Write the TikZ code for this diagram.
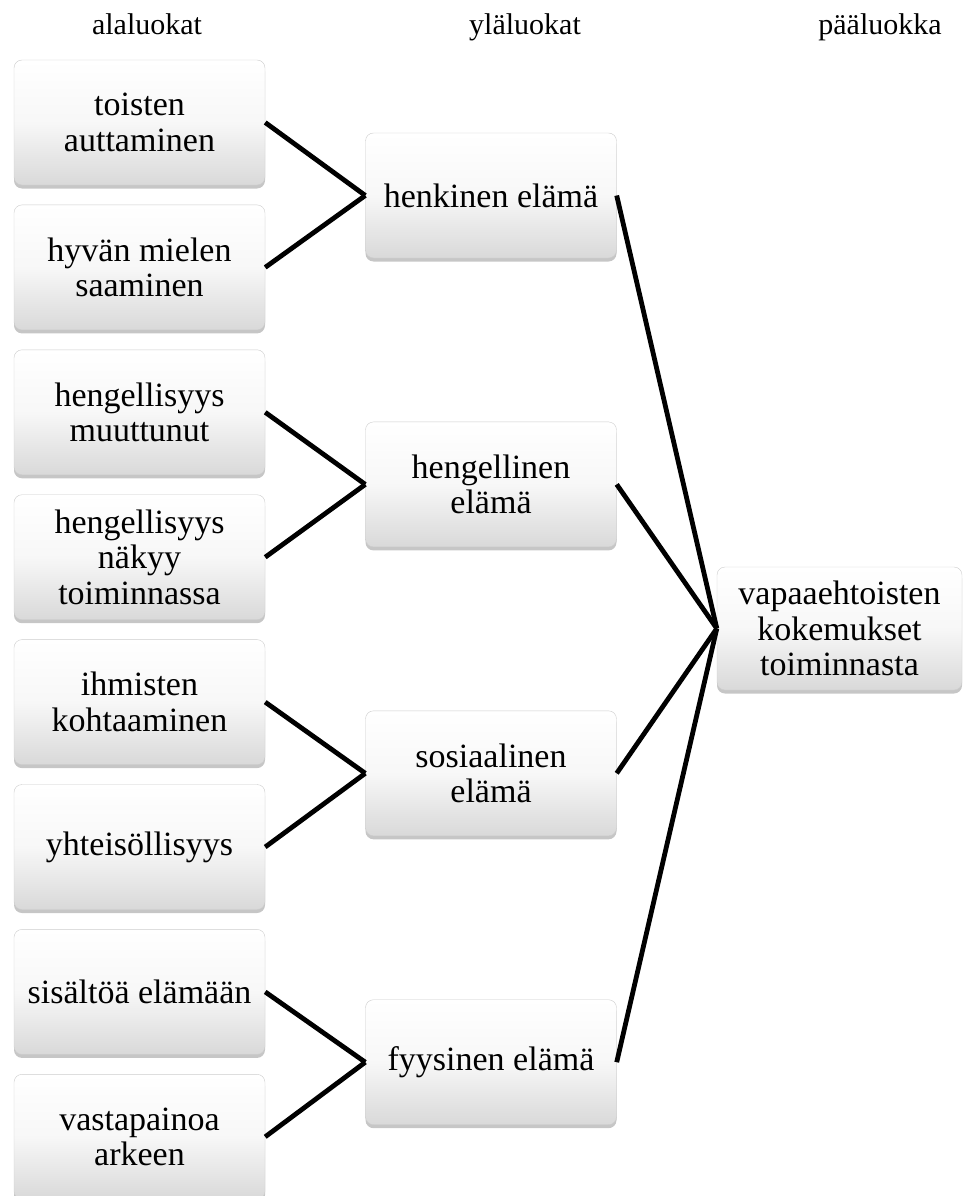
\documentclass[tikz,border=0pt]{standalone}
\usepackage{fontspec}
\setmainfont{Liberation Serif}
\usetikzlibrary{positioning,shadows}
\begin{document}
\begin{tikzpicture}[x=1pt,y=1pt]
\tikzstyle{box} = [draw=gray!40, thin, rounded corners=8pt, top color=white, bottom color=gray!30, middle color=gray!6, minimum width=251pt, minimum height=125pt, align=center, font=\fontsize{34}{35.5}\selectfont, drop shadow={shadow xshift=0pt, shadow yshift=-3.5pt, opacity=0.45}] % shaded category box
\tikzstyle{link} = [line width=4.8pt, color=black] % connecting line
\tikzstyle{head} = [anchor=base, font=\fontsize{30}{32}\selectfont] % column header
\useasboundingbox (0,0) rectangle (963,-1196); % page size of the reference
% column headers
\node(hsub)[head] at (147,-35){alaluokat};
\node(hupper)[head] at (525,-35){yläluokat};
\node(hmain)[head] at (880,-35){pääluokka};
% left column: subcategories, first one placed at coordinates -> the rest below it
\node(toisten)[box] at (139.5,-122.5){toisten\\auttaminen};
\node(mieli)[box, below = 19.5pt of toisten]{hyvän mielen\\saaminen};
\node(muuttunut)[box, below = 19.5pt of mieli]{hengellisyys\\muuttunut};
\node(nakyy)[box, below = 19.5pt of muuttunut]{hengellisyys\\näkyy\\toiminnassa};
\node(kohtaaminen)[box, below = 19.5pt of nakyy]{ihmisten\\kohtaaminen};
\node(yhteis)[box, below = 19.5pt of kohtaaminen]{yhteisöllisyys};
\node(sisalto)[box, below = 19.5pt of yhteis]{sisältöä elämään};
\node(vasta)[box, below = 19.5pt of sisalto]{vastapainoa\\arkeen};
% middle column: upper categories
\node(henkinen)[box] at (491,-195.5){henkinen elämä};
\node(hengellinen)[box, below = 163.5pt of henkinen]{hengellinen\\elämä};
\node(sosiaalinen)[box, below = 163.5pt of hengellinen]{sosiaalinen\\elämä};
\node(fyysinen)[box, below = 163.5pt of sosiaalinen]{fyysinen elämä};
% right column: main category
\node(paa)[box, minimum width=245pt, minimum height=123pt] at (839.5,-628.5){vapaaehtoisten\\kokemukset\\toiminnasta};
% lines from subcategories to upper categories
\draw[link](toisten.east)--(henkinen.west);
\draw[link](mieli.east)--(henkinen.west);
\draw[link](muuttunut.east)--(hengellinen.west);
\draw[link](nakyy.east)--(hengellinen.west);
\draw[link](kohtaaminen.east)--(sosiaalinen.west);
\draw[link](yhteis.east)--(sosiaalinen.west);
\draw[link](sisalto.east)--(fyysinen.west);
\draw[link](vasta.east)--(fyysinen.west);
% lines from upper categories to main category
\draw[link](henkinen.east)--(paa.west);
\draw[link](hengellinen.east)--(paa.west);
\draw[link](sosiaalinen.east)--(paa.west);
\draw[link](fyysinen.east)--(paa.west);
\end{tikzpicture}
\end{document}
